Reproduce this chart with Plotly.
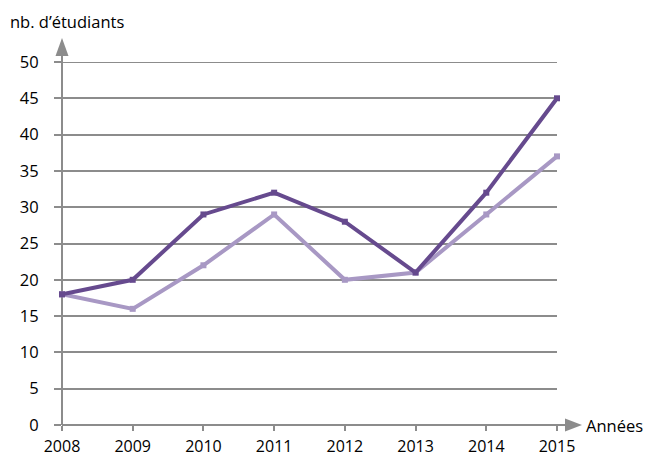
import plotly.graph_objects as go

years = [2008, 2009, 2010, 2011, 2012, 2013, 2014, 2015]
serie_fonce = [18, 20, 29, 32, 28, 21, 32, 45]
serie_clair = [18, 16, 22, 29, 20, 21, 29, 37]
y_ticks = [0, 5, 10, 15, 20, 25, 30, 35, 40, 45, 50]

FONT = "Open Sans"
FS = 16.5
L, R, T, B = 62, 89, 62, 31
W, H = 646, 456
pw, ph = W - L - R, H - T - B

def px(p):
    return (p - L) / pw

def py(p):
    return (H - B - p) / ph

fig = go.Figure()
fig.add_trace(go.Scatter(x=years, y=serie_clair, mode="lines+markers",
                         line=dict(color="#a898c4", width=4),
                         marker=dict(color="#a898c4", size=6, symbol="square"),
                         showlegend=False, cliponaxis=False))
fig.add_trace(go.Scatter(x=years, y=serie_fonce, mode="lines+markers",
                         line=dict(color="#664a8e", width=4),
                         marker=dict(color="#664a8e", size=6, symbol="square"),
                         showlegend=False, cliponaxis=False))

shapes = [
    dict(type="line", xref="paper", yref="y", x0=0, x1=1, y0=50, y1=50,
         line=dict(color="#8c8c8c", width=2), layer="below"),
    dict(type="line", xref="paper", yref="paper", x0=0, x1=0, y0=0, y1=py(55),
         line=dict(color="#8c8c8c", width=2), layer="below"),
    dict(type="path", xref="paper", yref="paper",
         path=f"M {px(55.5)} {py(56)} L {px(68.5)} {py(56)} L {px(62)} {py(38)} Z",
         fillcolor="#8c8c8c", line=dict(width=0)),
    dict(type="line", xref="paper", yref="paper", x0=0, x1=px(566), y0=0, y1=0,
         line=dict(color="#8c8c8c", width=2), layer="below"),
    dict(type="path", xref="paper", yref="paper",
         path=f"M {px(565)} {py(418.5)} L {px(565)} {py(431.5)} L {px(582)} {py(425)} Z",
         fillcolor="#8c8c8c", line=dict(width=0)),
]

annotations = [
    dict(text="nb. d’étudiants", xref="paper", yref="paper", x=px(8), y=py(21),
         xanchor="left", yanchor="middle", showarrow=False,
         font=dict(family=FONT, size=FS, color="#000")),
    dict(text="Années", xref="paper", yref="paper", x=px(584), y=py(425),
         xanchor="left", yanchor="middle", showarrow=False,
         font=dict(family=FONT, size=FS, color="#000")),
]

fig.update_layout(
    width=W, height=H,
    margin=dict(l=L, r=R, t=T, b=B, autoexpand=False),
    paper_bgcolor="white", plot_bgcolor="white",
    shapes=shapes, annotations=annotations,
    xaxis=dict(range=[2008, 2015], tickvals=years, ticktext=[str(y) for y in years],
               showgrid=False, zeroline=False, showline=False,
               ticks="outside", ticklen=5, tickwidth=2, tickcolor="#8c8c8c",
               tickfont=dict(family=FONT, size=16, color="#000"), ticklabelstandoff=2),
    yaxis=dict(range=[0, 50], tickvals=y_ticks, showgrid=True, gridcolor="#8c8c8c",
               gridwidth=2, zeroline=False, showline=False,
               ticks="outside", ticklen=7, tickwidth=2, tickcolor="#8c8c8c",
               tickfont=dict(family=FONT, size=FS, color="#000"), ticklabelstandoff=12),
)

fig.write_html("out.html", config={"displayModeBar": False},
               post_script="document.body.style.margin='0';document.body.style.overflow='hidden';")
